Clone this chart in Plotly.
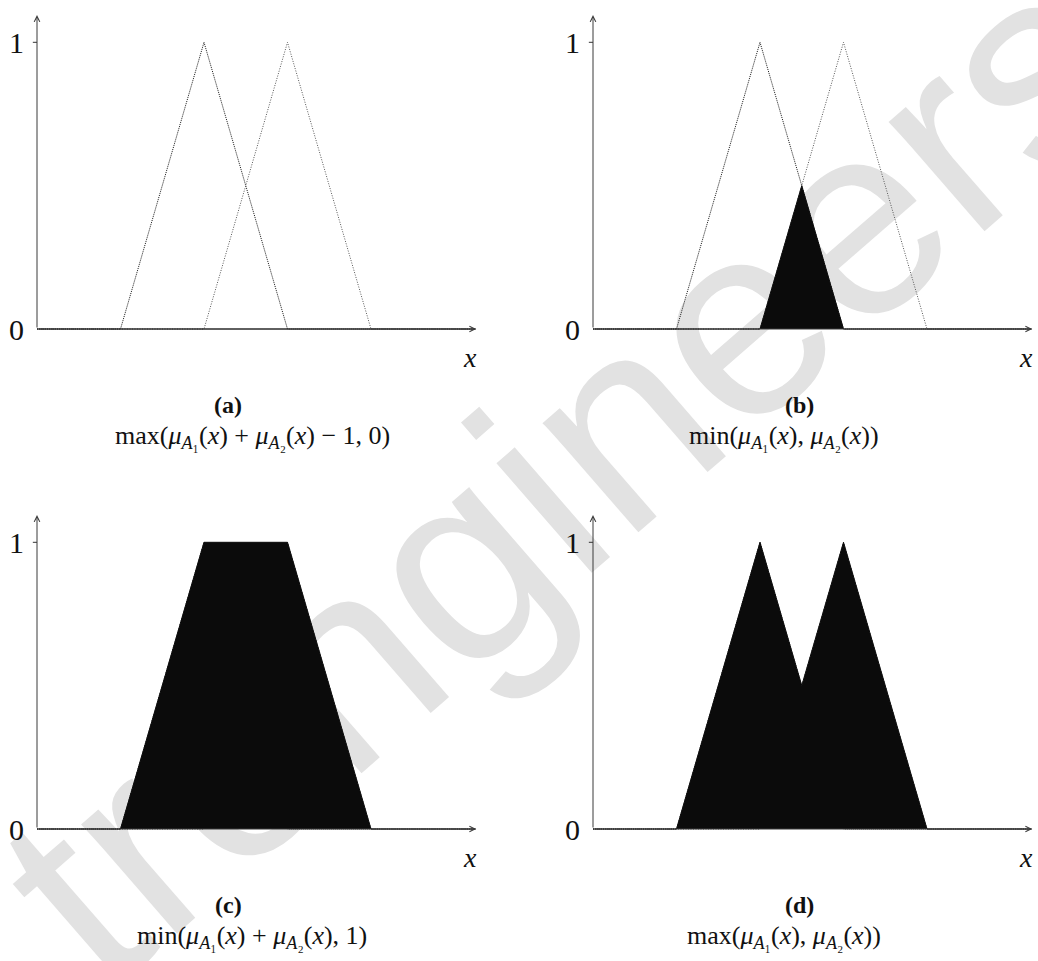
import plotly.graph_objects as go

# Sample points along the universe of discourse
sample_x = [0, 1, 2, 2.5, 3, 4, 5.25]
# Membership functions of the two fuzzy sets
mu_a1 = [0, 0, 1, 0.5, 0, 0, 0]
mu_a2 = [0, 0, 0, 0.5, 1, 0, 0]
# Results of the four operators on the same points
op_results = {
    "a": [0, 0, 0, 0, 0, 0, 0],        # bounded difference
    "b": [0, 0, 0, 0.5, 0, 0, 0],      # minimum
    "c": [0, 0, 1, 1, 1, 0, 0],        # bounded sum
    "d": [0, 0, 1, 0.5, 1, 0, 0],      # maximum
}
panel_tags = ["(a)", "(b)", "(c)", "(d)"]
sub1 = "<sub><i>A</i>₁</sub>"
sub2 = "<sub><i>A</i>₂</sub>"
formulas = [
    f"max(<i>μ</i>{sub1}(<i>x</i>) + <i>μ</i>{sub2}(<i>x</i>) − 1, 0)",
    f"min(<i>μ</i>{sub1}(<i>x</i>), <i>μ</i>{sub2}(<i>x</i>))",
    f"min(<i>μ</i>{sub1}(<i>x</i>) + <i>μ</i>{sub2}(<i>x</i>), 1)",
    f"max(<i>μ</i>{sub1}(<i>x</i>), <i>μ</i>{sub2}(<i>x</i>))",
]
y_ticks = [0, 1]
x_end = 5.26
y_end = 1.095

W, H = 1038, 961
XU, YU = 83.5, 286.7            # pixels per data unit
# panel placement: (left px, right px, top px, bottom px, origin x px, origin y px)
panels = [
    (0, 480, 0, 480, 37, 329),
    (556, 1036, 0, 480, 593, 329),
    (0, 480, 480, 961, 37, 829),
    (556, 1036, 480, 961, 593, 829),
]

SERIF = "Liberation Serif, DejaVu Serif, serif"
fig = go.Figure()
annotations = []
shapes = []

for i, key in enumerate(["a", "b", "c", "d"]):
    l, r, t, b, ox, oy = panels[i]
    xa = "x" if i == 0 else f"x{i+1}"
    ya = "y" if i == 0 else f"y{i+1}"
    xname = "xaxis" if i == 0 else f"xaxis{i+1}"
    yname = "yaxis" if i == 0 else f"yaxis{i+1}"
    xr = [(l - ox) / XU, (r - ox) / XU]
    yr = [(oy - b) / YU, (oy - t) / YU]
    fig.update_layout({
        xname: dict(domain=[l / W, r / W], range=xr, visible=False,
                    anchor=ya, fixedrange=True),
        yname: dict(domain=[1 - b / H, 1 - t / H], range=yr, visible=False,
                    anchor=xa, fixedrange=True),
    })

    # the two membership functions, dotted
    fig.add_trace(go.Scatter(
        x=sample_x, y=mu_a1, mode="lines",
        line=dict(color="#1a1a1a", width=1, dash="1px,1px"),
        xaxis=xa, yaxis=ya, showlegend=False, hoverinfo="skip"))
    fig.add_trace(go.Scatter(
        x=sample_x, y=mu_a2, mode="lines",
        line=dict(color="#555555", width=1, dash="1px,1.5px"),
        xaxis=xa, yaxis=ya, showlegend=False, hoverinfo="skip"))
    # operator result, filled black on top
    fig.add_trace(go.Scatter(
        x=sample_x, y=op_results[key], mode="lines", fill="tozeroy",
        fillcolor="#0b0b0b", line=dict(color="#0b0b0b", width=1),
        xaxis=xa, yaxis=ya, showlegend=False, hoverinfo="skip"))

    # axes drawn as arrows from the origin
    for tip in [(x_end, 0), (0, y_end)]:
        annotations.append(dict(
            x=tip[0], y=tip[1], ax=0, ay=0, xref=xa, yref=ya,
            axref=xa, ayref=ya, text="", showarrow=True, arrowhead=5,
            arrowsize=1.1, arrowwidth=1, arrowcolor="#3a3a3a"))
    # tick at 1
    shapes.append(dict(type="line", xref=xa, yref=ya, x0=-0.05, x1=0,
                       y0=1, y1=1, line=dict(color="#333", width=1)))
    for tv in y_ticks:
        annotations.append(dict(
            x=-0.24, y=tv, xref=xa, yref=ya, text=str(tv), showarrow=False,
            font=dict(family=SERIF, size=30, color="#111")))
    annotations.append(dict(
        x=5.19, y=-0.1, xref=xa, yref=ya, text="<i>x</i>", showarrow=False,
        font=dict(family=SERIF, size=28, color="#111")))
    tag_x = 2.29 if i % 2 == 0 else 2.47
    form_x = 2.58 if i % 2 == 0 else 2.29
    tag_y = -0.265
    annotations.append(dict(
        x=tag_x, y=tag_y, xref=xa, yref=ya, text=f"<b>{panel_tags[i]}</b>",
        showarrow=False, font=dict(family=SERIF, size=24, color="#111")))
    annotations.append(dict(
        x=form_x, y=tag_y - 0.11, xref=xa, yref=ya, text=formulas[i],
        showarrow=False, font=dict(family=SERIF, size=26, color="#111")))

# faint diagonal watermark behind the plots
shapes.append(dict(
    type="line", xref="paper", yref="paper",
    x0=0.1618, y0=0.1863, x1=0.8882, y1=0.8689,
    layer="below", line=dict(width=0, color="rgba(0,0,0,0)"),
    label=dict(text="trengineers", textposition="middle",
               xanchor="center", yanchor="middle",
               font=dict(family="Liberation Sans, Arial, sans-serif",
                         size=275, color="#e2e2e2"))))

fig.update_layout(
    width=W, height=H, margin=dict(l=0, r=0, t=0, b=0),
    paper_bgcolor="white", plot_bgcolor="rgba(0,0,0,0)",
    annotations=annotations, shapes=shapes, showlegend=False)

fig.write_html("out.html")
